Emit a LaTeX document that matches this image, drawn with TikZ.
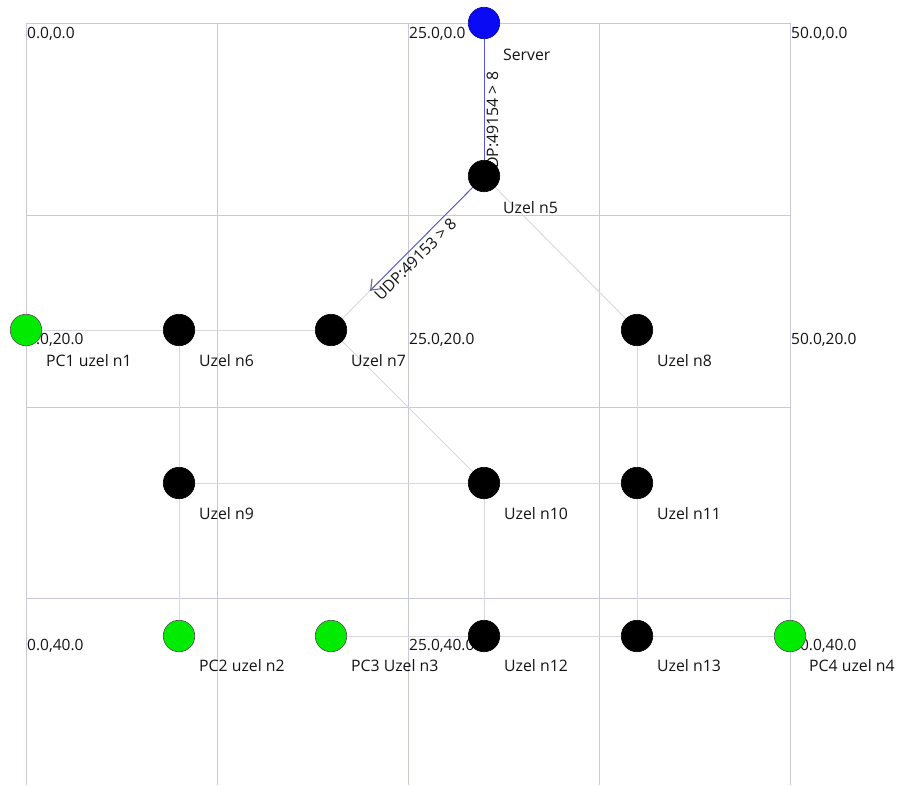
\documentclass[tikz,border=0pt]{standalone}
\usepackage{fontspec}
\setmainfont{Open Sans}
\usetikzlibrary{arrows.meta,calc}
\definecolor{gridc}{RGB}{200,200,222}
\definecolor{edgec}{RGB}{216,216,222}
\definecolor{pktc}{RGB}{85,85,225}
\definecolor{arrc}{RGB}{105,105,150}
\definecolor{pcgreen}{RGB}{0,235,0}
\definecolor{srvblue}{RGB}{10,10,245}
\definecolor{txt}{RGB}{20,20,20}
\tikzset{
  gridline/.style={draw=gridc, line width=0.9pt},
  link/.style={draw=edgec, line width=0.9pt},
  pkt/.style={draw=pktc, line width=0.9pt},
  dev/.style={circle, minimum size=31.5pt, inner sep=0pt, line width=0.6pt},
  router/.style={dev, fill=black, draw=black},
  pc/.style={dev, fill=pcgreen, draw=black!70},
  srv/.style={dev, fill=srvblue, draw=srvblue!60!black},
  nlab/.style={anchor=west, inner sep=0pt, font=\fontsize{15.8}{17}\selectfont, text=txt},
  clab/.style={anchor=west, inner sep=0pt, font=\fontsize{15.5}{17}\selectfont, text=txt},
  plab/.style={anchor=north, inner sep=1.5pt, font=\fontsize{15.8}{17}\selectfont, text=txt}
}
\begin{document}
\begin{tikzpicture}[x=1pt, y=-1pt]
\fill[white] (0,0) rectangle (897,785);
\useasboundingbox (0,0) rectangle (897,785);
% grid
\foreach \gx in {26,217,408,599,790} \draw[gridline] (\gx,23) -- (\gx,785);
\foreach \gy in {23,215,407,598} \draw[gridline] (26,\gy) -- (790,\gy);
% coordinate labels
\node[clab] (c00) at (27,34) {0.0,0.0};
\node[clab] (c250) at (409,34) {25.0,0.0};
\node[clab] (c500) at (791,34) {50.0,0.0};
\node[clab] (c020) at (27,340) {0.0,20.0};
\node[clab] (c2520) at (409,340) {25.0,20.0};
\node[clab] (c5020) at (791,340) {50.0,20.0};
\node[clab] (c040) at (27,646) {0.0,40.0};
\node[clab] (c2540) at (409,646) {25.0,40.0};
\node[clab] (c5040) at (791,646) {50.0,40.0};
% node positions
\coordinate (p0) at (484,23);
\coordinate (p5) at (484,176);
\coordinate (p1) at (26,330);
\coordinate (p6) at (179,330);
\coordinate (p7) at (331,330);
\coordinate (p8) at (637,330);
\coordinate (p9) at (179,483);
\coordinate (p10) at (484,483);
\coordinate (p11) at (637,483);
\coordinate (p2) at (179,636);
\coordinate (p3) at (331,636);
\coordinate (p12) at (484,636);
\coordinate (p13) at (637,636);
\coordinate (p4) at (790,636);
% links
\draw[link] (p1) -- (p6);
\draw[link] (p6) -- (p7);
\draw[link] (p7) -- (p5);
\draw[link] (p5) -- (p8);
\draw[link] (p6) -- (p9);
\draw[link] (p9) -- (p2);
\draw[link] (p7) -- (p10);
\draw[link] (p9) -- (p10);
\draw[link] (p10) -- (p11);
\draw[link] (p8) -- (p11);
\draw[link] (p11) -- (p13);
\draw[link] (p10) -- (p12);
\draw[link] (p3) -- (p12);
\draw[link] (p12) -- (p13);
\draw[link] (p13) -- (p4);
% packets
\coordinate (tip1) at ($(p0)!0.97!(p5)$);
\coordinate (tip2) at ($(p5)!0.745!(p7)$);
\draw[pkt, -{Straight Barb[length=7pt,width=12pt,line width=0.9pt]}] (p0) -- (tip1);
\draw[pkt] (p5) -- (tip2);
\draw[draw=arrc, line width=1pt, -{Straight Barb[length=9pt,width=14pt,line width=1.1pt]}] ($(p5)!0.68!(p7)$) -- (tip2);
\node[plab, rotate=90] (pl1) at (485,126) {UDP:49154 > 8};
\node[plab, rotate=45] (pl2) at (410,254) {UDP:49153 > 8};
% devices
\node[srv] (n0) at (p0) {};
\node[router] (n5) at (p5) {};
\node[pc] (n1) at (p1) {};
\node[router] (n6) at (p6) {};
\node[router] (n7) at (p7) {};
\node[router] (n8) at (p8) {};
\node[router] (n9) at (p9) {};
\node[router] (n10) at (p10) {};
\node[router] (n11) at (p11) {};
\node[pc] (n2) at (p2) {};
\node[pc] (n3) at (p3) {};
\node[router] (n12) at (p12) {};
\node[router] (n13) at (p13) {};
\node[pc] (n4) at (p4) {};
% device labels
\node[nlab] (l0) at (503,55) {Server};
\node[nlab] (l5) at (503,208) {Uzel n5};
\node[nlab] (l1) at (46,361) {PC1 uzel n1};
\node[nlab] (l6) at (199,361) {Uzel n6};
\node[nlab] (l7) at (351,361) {Uzel n7};
\node[nlab] (l8) at (657,361) {Uzel n8};
\node[nlab] (l9) at (199,514) {Uzel n9};
\node[nlab] (l10) at (504,514) {Uzel n10};
\node[nlab] (l11) at (657,514) {Uzel n11};
\node[nlab] (l2) at (199,666) {PC2 uzel n2};
\node[nlab] (l3) at (351,666) {PC3 Uzel n3};
\node[nlab] (l12) at (504,666) {Uzel n12};
\node[nlab] (l13) at (657,666) {Uzel n13};
\node[nlab] (l4) at (809,666) {PC4 uzel n4};
\end{tikzpicture}
\end{document}
